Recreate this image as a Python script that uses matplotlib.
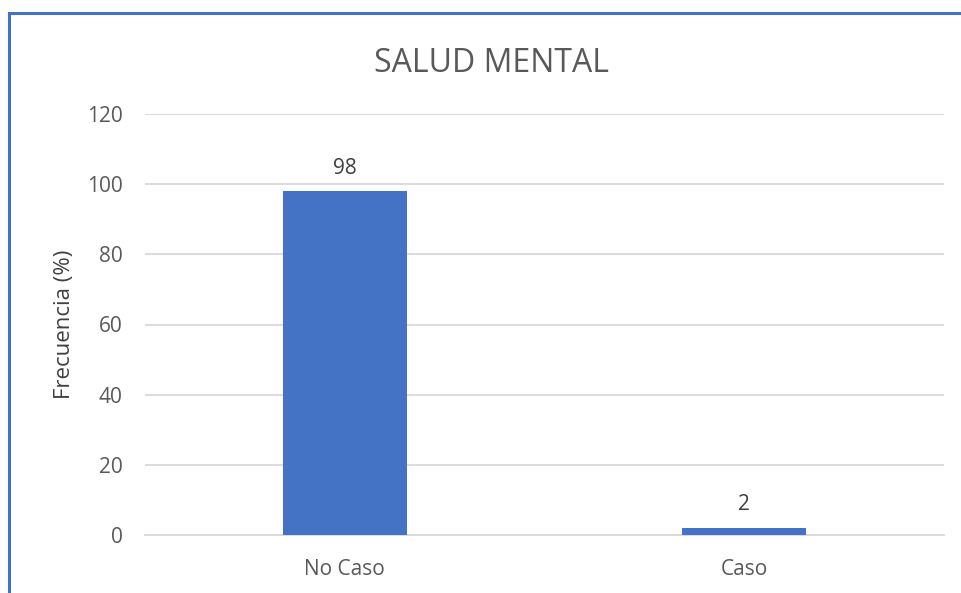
import matplotlib
matplotlib.use("Agg")
import matplotlib.pyplot as plt
from matplotlib.lines import Line2D

# data
categorias = ["No Caso", "Caso"]
frecuencia = [98, 2]
yticks = [0, 20, 40, 60, 80, 100, 120]

plt.rcParams['font.family'] = ['Open Sans', 'DejaVu Sans']

fig = plt.figure(figsize=(9.62, 5.93), dpi=100)
ax = fig.add_axes([145 / 962, 58 / 593, 799 / 962, 421 / 593])

x = range(len(categorias))
bars = ax.bar(x, frecuencia, width=0.31, color='#4472c4', zorder=3)
for b, v in zip(bars, frecuencia):
    ax.annotate(str(v), (b.get_x() + b.get_width() / 2, v), xytext=(0, 9),
                textcoords='offset points', ha='center', va='bottom',
                fontsize=15, color='#404040')

ax.set_xlim(-0.5, len(categorias) - 0.5)
ax.set_ylim(0, 120)
ax.set_yticks(yticks)
ax.set_xticks(list(x))
ax.set_xticklabels(categorias)
ax.yaxis.grid(True, color='#d9d9d9', linewidth=1.3, zorder=0)
for s in ['top', 'right', 'left']:
    ax.spines[s].set_visible(False)
ax.spines['bottom'].set_color('#d9d9d9')
ax.spines['bottom'].set_linewidth(1.3)
ax.tick_params(axis='both', length=0, labelsize=15, colors='#595959')
ax.tick_params(axis='y', pad=16)
ax.tick_params(axis='x', pad=17)
ax.set_ylabel('Frecuencia (%)', fontsize=16, color='#404040', labelpad=9)

fig.text(492 / 962, 1 - 63 / 593, 'SALUD MENTAL', ha='center', va='center',
         fontsize=23, color='#595959')

# blue frame on top and left edge
fig.add_artist(Line2D([9 / 962, 9 / 962], [0, 1 - 13 / 593], transform=fig.transFigure,
                      color='#4472c4', linewidth=2.2))
fig.add_artist(Line2D([9 / 962, 1], [1 - 13 / 593, 1 - 13 / 593], transform=fig.transFigure,
                      color='#4472c4', linewidth=2.2))

fig.savefig('out.png', dpi=100)
